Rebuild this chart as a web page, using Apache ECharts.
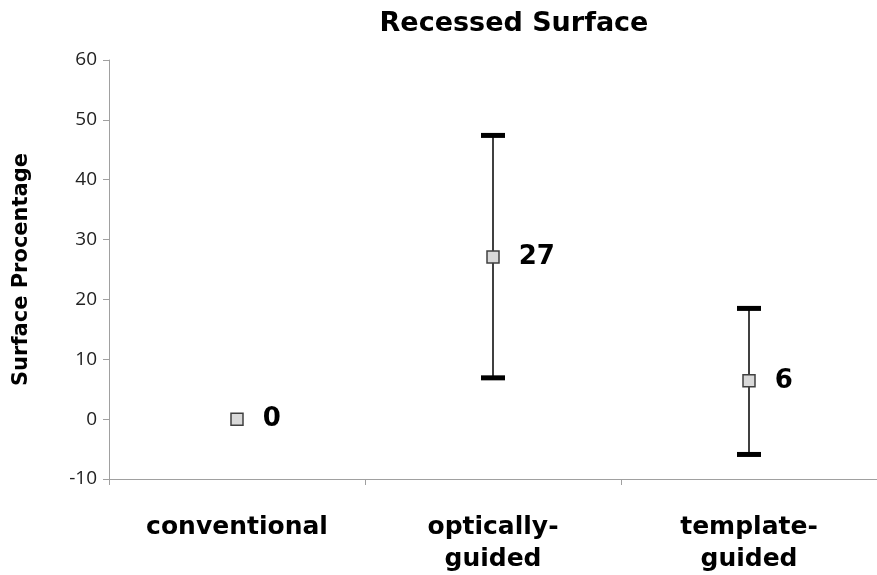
<!DOCTYPE html>
<html><head><meta charset="utf-8">
<script src="https://cdn.jsdelivr.net/npm/echarts@6/dist/echarts.min.js"></script>
<style>html,body{margin:0;padding:0;background:#fff}#c{width:877px;height:575px}</style>
</head><body><div id="c"></div>
<script>
const categories = ['conventional', 'optically-\nguided', 'template-\nguided'];
const means = [0, 27.1, 6.4];
const labels = ['0', '27', '6'];
const errLow = [null, 6.9, -5.9];
const errHigh = [null, 47.4, 18.5];
const yTicks = [-10, 0, 10, 20, 30, 40, 50, 60];

const chart = echarts.init(document.getElementById('c'));
const errData = categories.map((c, i) => [i, errLow[i], errHigh[i]]).filter(d => d[1] !== null);
const labelStyle = {show: true, position: 'right', distance: 19, fontFamily: 'DejaVu Sans', fontWeight: 'bold', fontSize: 26, color: '#000', opacity: 1};
chart.setOption({
  animation: false,
  backgroundColor: '#fff',
  title: {
    text: 'Recessed Surface', left: 509, top: 5, textAlign: 'center',
    textStyle: {fontFamily: 'DejaVu Sans', fontWeight: 'bold', fontSize: 27, color: '#000'}
  },
  grid: {left: 109, top: 60, width: 774, height: 422},
  xAxis: {
    type: 'category', data: categories, boundaryGap: true,
    axisLine: {onZero: false, lineStyle: {color: '#a0a0a0', width: 1}},
    axisTick: {show: true, length: 6, lineStyle: {color: '#a0a0a0'}},
    axisLabel: {margin: 32, fontFamily: 'DejaVu Sans', fontWeight: 'bold', fontSize: 25, color: '#000', lineHeight: 32, interval: 0}
  },
  yAxis: {
    type: 'value', min: yTicks[0], max: yTicks[yTicks.length - 1], interval: 10,
    name: 'Surface Procentage', nameLocation: 'middle', nameGap: 77, nameRotate: 90,
    nameTextStyle: {fontFamily: 'DejaVu Sans', fontWeight: 'bold', fontSize: 21, color: '#000'},
    splitLine: {show: false},
    axisLine: {show: true, lineStyle: {color: '#a0a0a0', width: 1}},
    axisTick: {show: true, length: 6, lineStyle: {color: '#a0a0a0'}},
    axisLabel: {margin: 12, fontFamily: 'Open Sans', fontSize: 19, color: '#222'}
  },
  series: [
    {
      type: 'custom', data: errData, z: 2,
      renderItem: function (params, api) {
        const x = api.value(0);
        const lo = api.coord([x, api.value(1)]);
        const hi = api.coord([x, api.value(2)]);
        const hw = 12;
        return {
          type: 'group',
          children: [
            {type: 'line', shape: {x1: lo[0], y1: lo[1], x2: hi[0], y2: hi[1]}, style: {stroke: '#404040', lineWidth: 2}},
            {type: 'line', shape: {x1: lo[0] - hw, y1: lo[1], x2: lo[0] + hw, y2: lo[1]}, style: {stroke: '#000', lineWidth: 5}},
            {type: 'line', shape: {x1: hi[0] - hw, y1: hi[1], x2: hi[0] + hw, y2: hi[1]}, style: {stroke: '#000', lineWidth: 5}}
          ]
        };
      }
    },
    {
      type: 'scatter', z: 3, symbol: 'rect', symbolSize: 12,
      data: means.map((v, i) => ({value: [i, v], label: Object.assign({}, labelStyle, {formatter: labels[i]})})),
      itemStyle: {color: '#d9d9d9', borderColor: '#404040', borderWidth: 1.5, opacity: 1},
      label: labelStyle,
      emphasis: {disabled: true}
    }
  ]
});
</script></body></html>
